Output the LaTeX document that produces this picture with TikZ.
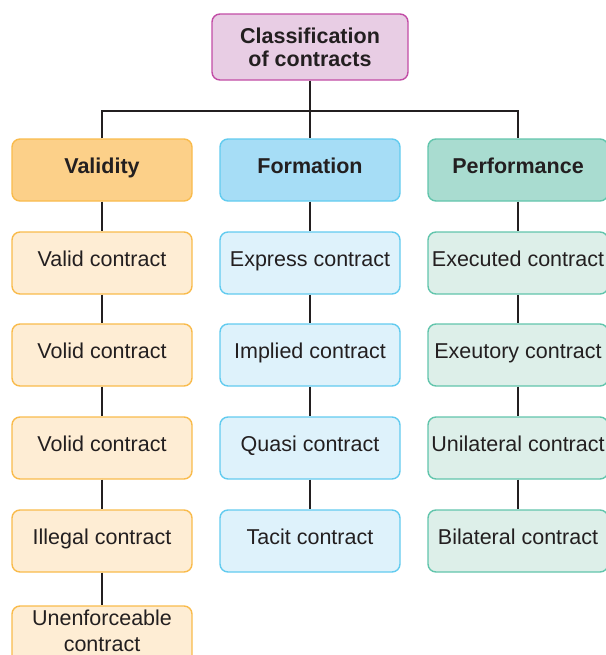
\documentclass[tikz,border=0pt]{standalone}
\usepackage{fontspec}
\setmainfont{Liberation Sans}
\begin{document}
\begin{tikzpicture}[x=0.5pt,y=-0.5pt,
        caja/.style={rounded corners=4pt,line width=0.7pt,minimum width=90pt,minimum height=31pt,
            align=center,inner sep=1pt,text height=7.7pt,text depth=4pt,text=texto,
            font=\fontsize{10.75}{13}\selectfont},
        titulo/.style={caja,font=\fontsize{10.75}{11.5}\selectfont\bfseries},
        dosline/.style={text height={},text depth={}},
        linea/.style={line width=1pt,draw=texto}]
        %colores
        \definecolor{texto}{HTML}{231F20}
        \definecolor{raizfill}{HTML}{E8CDE4}
        \definecolor{raizline}{HTML}{C24DA6}
        \definecolor{valhead}{HTML}{FCD089}
        \definecolor{valbox}{HTML}{FEEDD4}
        \definecolor{valline}{HTML}{F9BB4C}
        \definecolor{forhead}{HTML}{A6DDF6}
        \definecolor{forbox}{HTML}{DEF2FB}
        \definecolor{forline}{HTML}{62CBEF}
        \definecolor{perhead}{HTML}{A9DCD0}
        \definecolor{perbox}{HTML}{DDEFE9}
        \definecolor{perline}{HTML}{62C5AC}

        \useasboundingbox (0,0) rectangle (606,655);

        % Raiz y encabezados
        \node[titulo,dosline,fill=raizfill,draw=raizline,minimum width=98pt,minimum height=33pt] (raiz) at (310,47) {Classification\\of contracts};
        \foreach \col/\x/\tit in {val/102/Validity, for/310/Formation, per/518/Performance}
            \node[titulo,fill=\col head,draw=\col line] (\col h) at (\x,170) {\tit};

        % Cajas de cada columna
        \foreach \y/\t [count=\i] in {263/Valid contract, 355/Volid contract, 448/Volid contract,
            541/Illegal contract}
            \node[caja,fill=valbox,draw=valline] (val\i) at (102,\y) {\t};
        \node[caja,dosline,text depth=6.3pt,fill=valbox,draw=valline] (val5) at (102,637) {Unenforceable\\contract};
        \foreach \y/\t [count=\i] in {263/Express contract, 355/Implied contract, 448/Quasi contract,
            541/Tacit contract}
            \node[caja,fill=forbox,draw=forline] (for\i) at (310,\y) {\t};
        \foreach \y/\t [count=\i] in {263/Executed contract, 355/Exeutory contract, 448/Unilateral contract,
            541/Bilateral contract}
            \node[caja,fill=perbox,draw=perline] (per\i) at (518,\y) {\t};

        %Lineas
        \coordinate (barra) at (310,111);
        \draw[linea] (raiz) -- (forh);
        \draw[linea] (valh.north) |- (barra) -| (perh.north);
        \foreach \a/\b in {valh/val1, val1/val2, val2/val3, val3/val4, val4/val5,
            forh/for1, for1/for2, for2/for3, for3/for4,
            perh/per1, per1/per2, per2/per3, per3/per4}
            \draw[linea] (\a) -- (\b);
    \end{tikzpicture}
\end{document}
